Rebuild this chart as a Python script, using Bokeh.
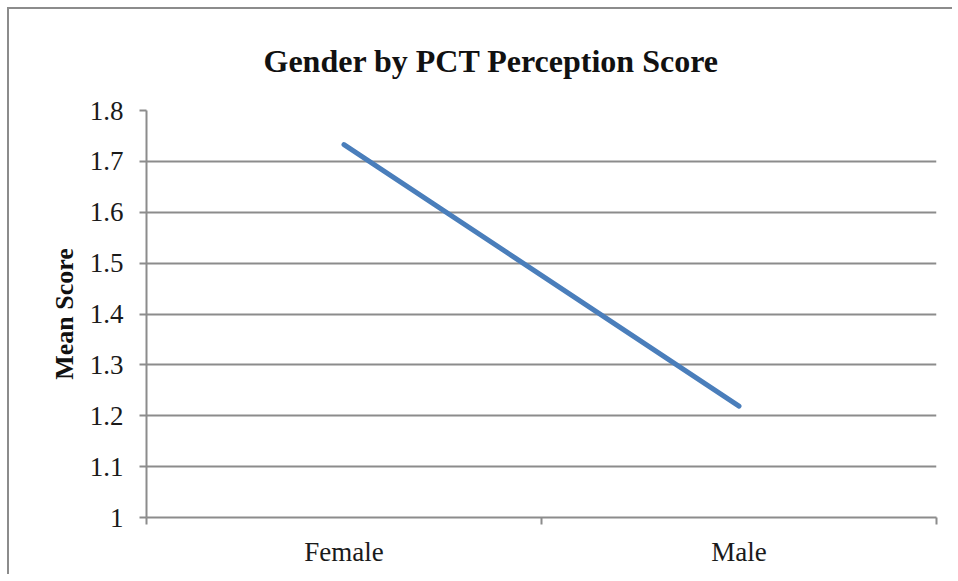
from bokeh.plotting import figure
from bokeh.models import Range1d, FixedTicker, NumeralTickFormatter
from bokeh.embed import file_html
from bokeh.resources import INLINE

# ---- data ----
categories = ["Female", "Male"]
mean_scores = [1.733, 1.219]
y_ticks = [1.0, 1.1, 1.2, 1.3, 1.4, 1.5, 1.6, 1.7, 1.8]
title_text = "Gender by PCT Perception Score"
y_label = "Mean Score"

centers = [i + 0.5 for i in range(len(categories))]
bounds = [float(i) for i in range(len(categories) + 1)]

FONT = "Liberation Serif"
GRAY = "#8c8c8c"
W, H = 945, 567

p = figure(width=W, height=H, output_backend="svg", toolbar_location=None, title=title_text,
           x_range=Range1d(0, len(categories)),
           y_range=Range1d(y_ticks[0], y_ticks[-1]),
           min_border_left=137, min_border_right=18,
           min_border_top=101, min_border_bottom=59,
           styles={"border-top": f"2px solid {GRAY}", "border-left": f"2px solid {GRAY}",
                   "margin-top": "7px", "margin-left": "7px"})
p.outline_line_color = None
p.background_fill_color = "white"
p.border_fill_color = "white"

p.title.align = "left"
p.title.offset = 117
p.title.standoff = 63
p.title.text_font = FONT
p.title.text_font_style = "bold"
p.title.text_font_size = "32px"
p.title.text_color = "#111111"

p.line(centers, mean_scores, line_width=5, line_color="#4a7ebb", line_cap="round")

# x axis
xa = p.xaxis[0]
xa.ticker = FixedTicker(ticks=centers, minor_ticks=bounds)
xa.major_label_overrides = {c: cat for c, cat in zip(centers, categories)}
xa.major_tick_line_color = None
xa.minor_tick_line_color = GRAY
xa.minor_tick_line_width = 2
xa.minor_tick_out = 7
xa.minor_tick_in = 0
xa.axis_line_color = GRAY
xa.axis_line_width = 2
xa.major_label_text_font = FONT
xa.major_label_text_font_size = "27px"
xa.major_label_text_color = "#1a1a1a"
xa.major_label_standoff = 12

# y axis
ya = p.yaxis[0]
ya.ticker = FixedTicker(ticks=y_ticks)
ya.formatter = NumeralTickFormatter(format="0.[0]")
ya.major_tick_line_color = GRAY
ya.major_tick_line_width = 2
ya.major_tick_out = 7
ya.major_tick_in = 0
ya.minor_tick_line_color = None
ya.axis_line_color = GRAY
ya.axis_line_width = 2
ya.major_label_text_font = FONT
ya.major_label_text_font_size = "27px"
ya.major_label_text_color = "#1a1a1a"
ya.major_label_standoff = 16
ya.axis_label = y_label
ya.axis_label_text_font = FONT
ya.axis_label_text_font_style = "bold"
ya.axis_label_text_font_size = "26px"
ya.axis_label_text_color = "#111111"
ya.axis_label_standoff = 8

p.xgrid.visible = False
p.ygrid.ticker = FixedTicker(ticks=y_ticks)
p.ygrid.grid_line_color = GRAY
p.ygrid.grid_line_width = 2

open("out.html", "w").write(file_html(p, INLINE))
